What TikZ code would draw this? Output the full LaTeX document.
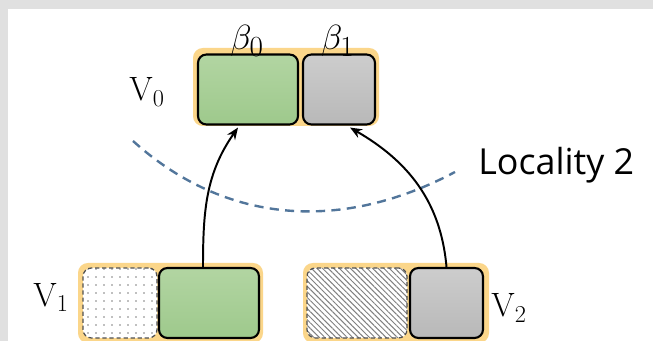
\documentclass[tikz,border=0pt]{standalone}
\usepackage{fontspec}
\newfontfamily\labelsans{Open Sans}
\usetikzlibrary{arrows.meta, positioning, patterns.meta}
\definecolor{bggrey}{RGB}{224,224,224}
\definecolor{holdorange}{RGB}{251,214,138}
\definecolor{cellgreenT}{RGB}{178,213,162}
\definecolor{cellgreenB}{RGB}{158,201,140}
\definecolor{cellgreyT}{RGB}{205,205,205}
\definecolor{cellgreyB}{RGB}{184,184,184}
\definecolor{dashgrey}{RGB}{80,80,80}
\definecolor{arcblue}{RGB}{82,118,155}

\begin{document}
\begin{tikzpicture}[
    holder/.style={fill=holdorange, rounded corners=7pt, minimum height=1.95cm, inner sep=0pt},
    cell/.style={draw, line width=1.5pt, rounded corners=6pt, minimum height=1.75cm, inner sep=0pt},
    greencell/.style={cell, top color=cellgreenT, bottom color=cellgreenB},
    greycell/.style={cell, top color=cellgreyT, bottom color=cellgreyB},
    emptycell/.style={cell, draw=dashgrey, line width=0.9pt, dash pattern=on 3pt off 2pt, preaction={fill=white}},
    vlabel/.style={font=\fontsize{24}{28}\selectfont},
    blabel/.style={font=\fontsize{30}{34}\selectfont, anchor=base west, inner sep=0pt},
    arrow/.style={-{Stealth[length=3mm, width=2.4mm]}, line width=1.4pt},
    arcline/.style={draw=arcblue, line width=1.7pt, dash pattern=on 6.5pt off 4.5pt},
]
\useasboundingbox (0,0) rectangle (16.325,8.525);
\fill[bggrey] (0,0) rectangle (16.325,8.525);
\fill[white] (0.2,0) rectangle (16.325,8.3);

% top vertex
\node[holder, minimum width=4.65cm] (v0) at (7.15, 6.35) {};
\node[greencell, minimum width=2.5cm] (v0a) at (6.2, 6.2875) {};
\node[greycell, minimum width=1.8cm] (v0b) at (8.475, 6.2875) {};

% bottom vertices
\node[holder, minimum width=4.625cm, minimum height=2cm] (v1) at (4.2625, 0.95) {};
\node[emptycell, minimum width=1.85cm, pattern={Dots[distance=2mm, radius=0.55pt]}, pattern color=gray] (v1a) at (3.0, 0.95) {};
\node[greencell, minimum width=2.5cm] (v1b) at (5.225, 0.95) {};

\node[holder, minimum width=4.65cm, minimum height=2cm] (v2) at (9.9, 0.95) {};
\node[emptycell, minimum width=2.5cm, pattern={Lines[angle=-45, distance=2.8pt, line width=0.7pt]}, pattern color=gray] (v2a) at (8.925, 0.95) {};
\node[greycell, minimum width=1.825cm] (v2b) at (11.1625, 0.95) {};

% locality boundary
\coordinate (arcL) at (3.325, 5.0);
\coordinate (arcR) at (11.375, 4.225);
\draw[arcline] (arcL) to[out=-42, in=-152] (arcR);

\draw[arrow] ([xshift=-0.15cm]v1b.north) to[out=90, in=235] ([xshift=-0.25cm, yshift=-0.05cm]v0a.south);
\draw[arrow] (v2b.north) to[out=95, in=-30] ([xshift=0.275cm, yshift=-0.05cm]v0b.south);

\node[blabel] (b0) at (5.75, 7.29) {$\beta_0$};
\node[blabel] (b1) at (8.02, 7.29) {$\beta_1$};

\node[vlabel] (lv0) at (3.675, 6.225) {V$_0$};
\node[vlabel] (lv1) at (1.275, 1.0875) {V$_1$};
\node[vlabel] (lv2) at (12.725, 0.825) {V$_2$};

\node[font=\labelsans\fontsize{25.5}{30}\selectfont, anchor=base west, inner sep=0pt] (loc) at (11.95, 4.15) {Locality 2};

\end{tikzpicture}
\end{document}
